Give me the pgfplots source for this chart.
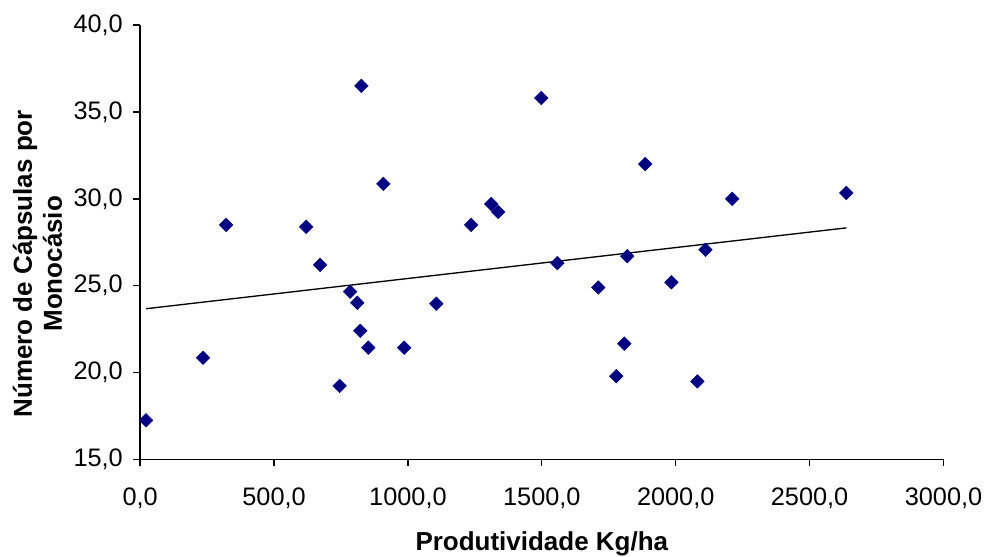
\documentclass[border=0pt]{standalone}
\usepackage{fontspec}
\setmainfont{Liberation Sans}
\usepackage{pgfplots}
\pgfplotsset{compat=1.18}
\usetikzlibrary{calc}
\definecolor{navy}{HTML}{000080}

\begin{document}
\begin{tikzpicture}[x=1pt,y=1pt]
\begin{axis}[
  name=ax,
  scale only axis,
  width=603pt, height=326.25pt,
  xmin=0, xmax=3000, ymin=15, ymax=40,
  xtick={0,500,...,3000},
  ytick={15,20,...,40},
  axis lines*=left,
  tick align=outside,
  major tick length=5pt,
  tick style={black, line width=1pt},
  axis line style={line width=1pt},
  x axis line style={-}, y axis line style={-},
  every tick label/.append style={font=\fontsize{19}{22}\selectfont},
  xticklabel style={yshift=-12.5pt},
  yticklabel style={xshift=-4.5pt},
  /pgf/number format/assume math mode=true,
  /pgf/number format/.cd, fixed, fixed zerofill, precision=1, use comma, 1000 sep={},
  /pgfplots/.cd,
  scaled ticks=false,
  xlabel={Produtividade Kg/ha},
  ylabel={Número de Cápsulas por\\Monocásio},
  xlabel style={font=\bfseries\fontsize{19.5}{22}\selectfont, at={(axis description cs:0.5,0)}, anchor=north, yshift=-50.5pt},
  ylabel style={font=\bfseries\fontsize{19.5}{22.5}\selectfont, align=center, at={(axis description cs:0,0.4506)}, anchor=south, yshift=55pt},
  clip=false,
]
% observations
\addplot[only marks, mark=square*, mark size=3.6pt, mark options={rotate=45}, color=navy] coordinates {
  (22,17.26) (235,20.86) (321,28.50) (620,28.39) (672,26.20)
  (745,19.24) (784,24.66) (811,24.02) (822,22.41) (826,36.50)
  (852,21.44) (908,30.86) (986,21.44) (1106,23.97) (1236,28.50)
  (1311,29.70) (1337,29.25) (1498,35.80) (1558,26.30) (1711,24.90)
  (1778,19.80) (1808,21.67) (1819,26.70) (1886,32.00) (1984,25.20)
  (2081,19.50) (2111,27.07) (2211,30.00) (2637,30.34)
};
% linear trend
\addplot[black, line width=1pt] coordinates {(22,23.68) (2637,28.33)};
\end{axis}
\pgfresetboundingbox
\path[use as bounding box] ($(ax.south west)+(-105.2pt,-72.75pt)$) rectangle ($(ax.north east)+(30.4pt,18.75pt)$);
\end{tikzpicture}
\end{document}
